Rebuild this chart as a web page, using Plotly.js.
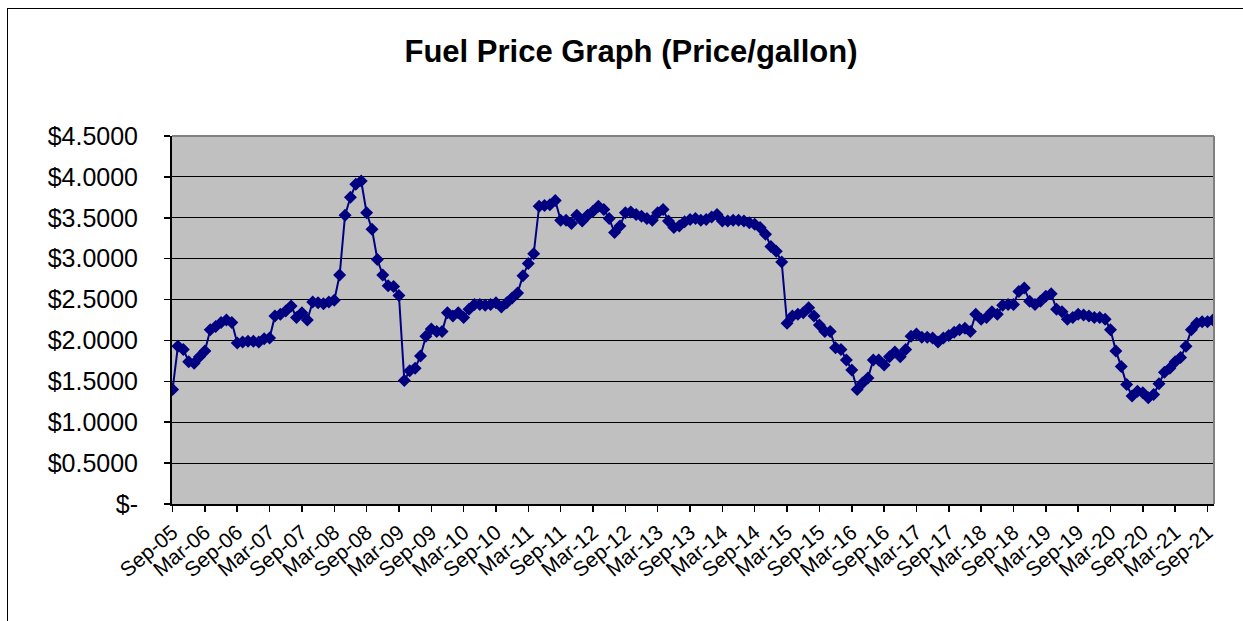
<!DOCTYPE html>
<html>
<head>
<meta charset="utf-8">
<script src="https://cdn.plot.ly/plotly-3.0.1.min.js"></script>
<style>
  html, body { margin: 0; padding: 0; background: #ffffff; overflow: hidden; }
  #frame { position: absolute; left: 7px; top: 8px; width: 1260px; height: 640px; border: 1px solid #000; box-sizing: border-box; }
  #chart { position: absolute; left: 0; top: 0; width: 1243px; height: 621px; }
</style>
</head>
<body>
<div id="frame"></div>
<div id="chart"></div>
<script>
// Monthly fuel price ($/gallon), Sep-05 through Oct-21
const startYear = 2005;
const startMonth = 8; // September (0-based)
const monthNames = ["Jan","Feb","Mar","Apr","May","Jun","Jul","Aug","Sep","Oct","Nov","Dec"];

const prices = [
  1.40, 1.93, 1.89, 1.74, 1.72, 1.80, 1.87, 2.13, 2.17, 2.22, 2.25, 2.22,
  1.97, 1.98, 1.99, 1.99, 1.98, 2.02, 2.03, 2.30, 2.32, 2.36, 2.42, 2.28,
  2.34, 2.25, 2.47, 2.46, 2.45, 2.47, 2.49, 2.80, 3.53, 3.75, 3.91, 3.95,
  3.56, 3.36, 2.99, 2.80, 2.67, 2.66, 2.55, 1.51, 1.63, 1.66, 1.81, 2.05,
  2.14, 2.11, 2.11, 2.34, 2.30, 2.34, 2.28, 2.38, 2.44, 2.44, 2.43, 2.44,
  2.46, 2.41, 2.46, 2.52, 2.58, 2.79, 2.94, 3.06, 3.64, 3.65, 3.66, 3.71,
  3.47, 3.47, 3.43, 3.53, 3.46, 3.53, 3.58, 3.64, 3.60, 3.49, 3.32, 3.40,
  3.56, 3.57, 3.54, 3.52, 3.49, 3.47, 3.56, 3.60, 3.46, 3.38, 3.40, 3.45,
  3.48, 3.49, 3.47, 3.48, 3.51, 3.54, 3.46, 3.46, 3.47, 3.47, 3.46, 3.44,
  3.42, 3.38, 3.30, 3.15, 3.09, 2.96, 2.21, 2.30, 2.32, 2.34, 2.40, 2.30,
  2.19, 2.11, 2.11, 1.91, 1.89, 1.76, 1.64, 1.40, 1.48, 1.54, 1.76, 1.76,
  1.70, 1.80, 1.86, 1.80, 1.89, 2.05, 2.08, 2.04, 2.04, 2.03, 1.98, 2.03,
  2.06, 2.10, 2.13, 2.15, 2.11, 2.32, 2.26, 2.28, 2.35, 2.32, 2.43, 2.44,
  2.44, 2.60, 2.64, 2.48, 2.44, 2.48, 2.54, 2.57, 2.38, 2.35, 2.26, 2.28,
  2.32, 2.31, 2.30, 2.28, 2.28, 2.26, 2.13, 1.87, 1.68, 1.46, 1.32, 1.38,
  1.36, 1.30, 1.34, 1.47, 1.61, 1.66, 1.74, 1.79, 1.93, 2.13, 2.21, 2.23,
  2.23, 2.25
];

// Category labels (one per monthly value)
const months = [];
for (let k = 0; k < prices.length; k++) {
  const m = (startMonth + k) % 12;
  const y = startYear + Math.floor((startMonth + k) / 12);
  months.push(monthNames[m] + "-" + String(y % 100).padStart(2, "0"));
}

const xTickLabels = [
  "Sep-05","Mar-06","Sep-06","Mar-07","Sep-07","Mar-08","Sep-08","Mar-09",
  "Sep-09","Mar-10","Sep-10","Mar-11","Sep-11","Mar-12","Sep-12","Mar-13",
  "Sep-13","Mar-14","Sep-14","Mar-15","Sep-15","Mar-16","Sep-16","Mar-17",
  "Sep-17","Mar-18","Sep-18","Mar-19","Sep-19","Mar-20","Sep-20","Mar-21","Sep-21"
];

const yTickVals = [0, 0.5, 1.0, 1.5, 2.0, 2.5, 3.0, 3.5, 4.0, 4.5];
const yTickText = ["$-", "$0.5000", "$1.0000", "$1.5000", "$2.0000", "$2.5000",
                   "$3.0000", "$3.5000", "$4.0000", "$4.5000"];

const trace = {
  type: "scatter",
  mode: "lines+markers",
  x: months,
  y: prices,
  line: { color: "#000080", width: 2 },
  marker: { symbol: "diamond", size: 10, color: "#000080", line: { width: 0 } },
  hoverinfo: "x+y"
};

const FONT = "Arial, 'Liberation Sans', sans-serif";

const layout = {
  width: 1243,
  height: 621,
  paper_bgcolor: "rgba(0,0,0,0)",
  plot_bgcolor: "#C0C0C0",
  margin: { l: 172, r: 29, t: 136, b: 117, pad: 0 },
  showlegend: false,
  title: {
    text: "<b>Fuel Price Graph (Price/gallon)</b>",
    font: { family: FONT, size: 31, color: "#000000" },
    x: 631 / 1243, xref: "container", xanchor: "center",
    y: 1 - 51 / 621, yref: "container", yanchor: "middle"
  },
  xaxis: {
    type: "category",
    range: [-0.1, 193.2],
    tickmode: "array",
    tickvals: xTickLabels,
    ticktext: xTickLabels,
    tickangle: -40,
    ticks: "outside",
    ticklen: 6,
    tickwidth: 1.5,
    tickcolor: "#000000",
    tickfont: { family: FONT, size: 21, color: "#000000" },
    showline: true,
    linecolor: "#000000",
    linewidth: 2,
    showgrid: false,
    zeroline: false,
    fixedrange: true
  },
  yaxis: {
    range: [0, 4.5],
    tickmode: "array",
    tickvals: yTickVals,
    ticktext: yTickText,
    ticks: "outside",
    ticklen: 6,
    tickwidth: 1.5,
    tickcolor: "#000000",
    ticklabelstandoff: 21,
    tickfont: { family: FONT, size: 25, color: "#000000" },
    showline: true,
    linecolor: "#000000",
    linewidth: 2,
    showgrid: true,
    gridcolor: "#000000",
    gridwidth: 1,
    zeroline: false,
    fixedrange: true
  },
  shapes: [
    { type: "line", xref: "paper", yref: "paper", x0: 0, x1: 1, y0: 1, y1: 1,
      line: { color: "#808080", width: 2 }, layer: "above" },
    { type: "line", xref: "paper", yref: "paper", x0: 1, x1: 1, y0: 0, y1: 1,
      line: { color: "#808080", width: 2 }, layer: "above" }
  ]
};

Plotly.newPlot("chart", [trace], layout, { displayModeBar: false, staticPlot: true });
</script>
</body>
</html>
